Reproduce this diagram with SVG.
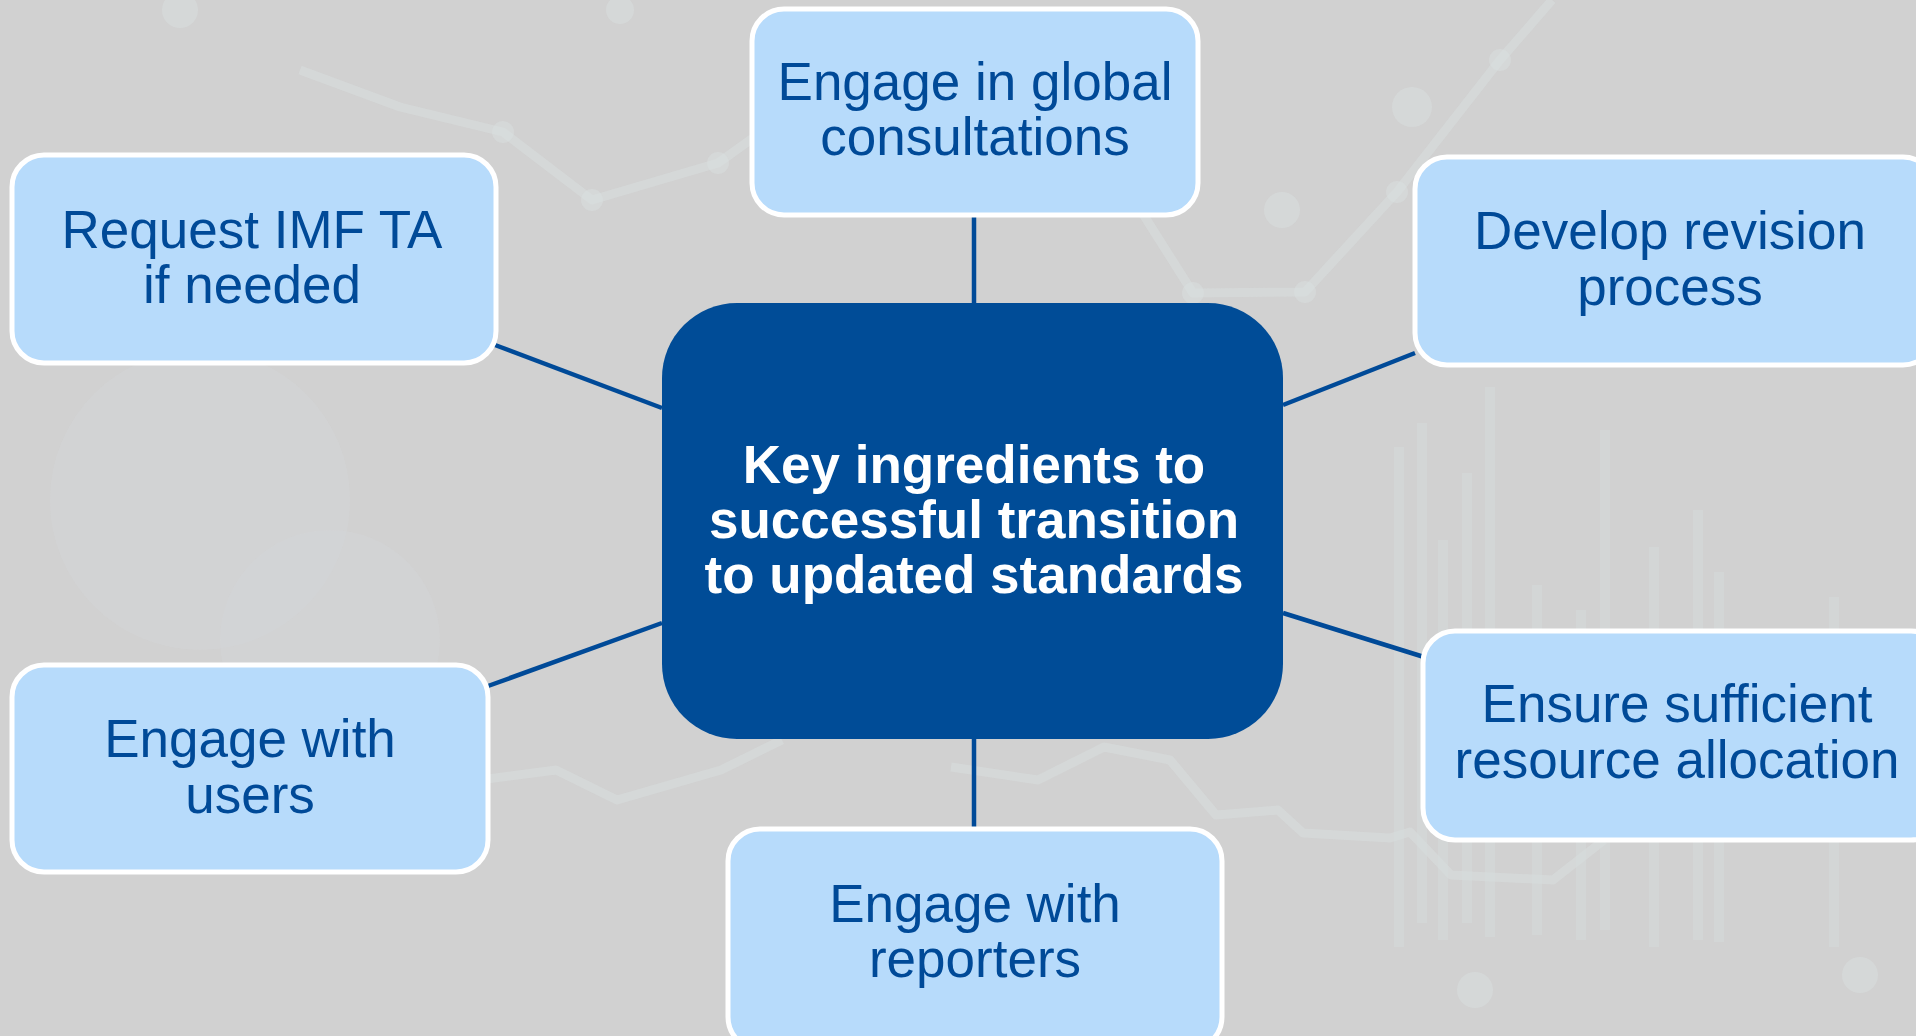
<svg xmlns="http://www.w3.org/2000/svg" width="1916" height="1036" viewBox="0 0 1916 1036">
<style>
.bg-line{fill:none;stroke:#d9dfdf;stroke-width:9;stroke-linejoin:round;opacity:0.5}
.bg-dot{fill:#d9dfdf;opacity:0.5}
.bg-bar{fill:#d6dbdb;opacity:0.5}
.node rect{fill:#b7dbfb;stroke:#ffffff;stroke-width:5}
.node text{font-family:"Liberation Sans",Arial,sans-serif;font-size:53px;fill:#004a98;text-anchor:middle}
.center rect{fill:#004c97}
.center text{font-family:"Liberation Sans",Arial,sans-serif;font-size:53px;font-weight:bold;fill:#ffffff;text-anchor:middle}
.conn line{stroke:#004a98;stroke-width:4.5}
</style>
<rect x="0" y="0" width="1916" height="1036" fill="#d1d1d1"/>
<g id="background">
  <circle cx="200" cy="500" r="150" fill="#d5d8d9" opacity="0.4"/>
  <circle cx="330" cy="640" r="110" fill="#d5d8d9" opacity="0.3"/>
  <polyline class="bg-line" points="300,70 400,107 503,132 592,200 718,163 760,133"/>
  <polyline class="bg-line" points="1143,214 1193,293 1305,292 1397,192 1500,60 1552,0"/>
  <polyline class="bg-line" points="464,782 556,770 617,800 721,770 782,740"/>
  <polyline class="bg-line" points="951,767 1038,780 1104,747 1170,760 1216,815 1278,810 1303,833 1390,838 1410,832 1451,875 1553,880 1604,840"/>
  <circle class="bg-dot" cx="503" cy="132" r="11"/>
  <circle class="bg-dot" cx="592" cy="200" r="11"/>
  <circle class="bg-dot" cx="718" cy="163" r="11"/>
  <circle class="bg-dot" cx="1193" cy="293" r="11"/>
  <circle class="bg-dot" cx="1305" cy="292" r="11"/>
  <circle class="bg-dot" cx="1397" cy="192" r="11"/>
  <circle class="bg-dot" cx="1500" cy="60" r="11"/>
  <circle class="bg-dot" cx="1412" cy="107" r="20"/>
  <circle class="bg-dot" cx="1282" cy="210" r="18"/>
  <circle class="bg-dot" cx="620" cy="10" r="14"/>
  <circle class="bg-dot" cx="180" cy="10" r="18"/>
  <circle class="bg-dot" cx="1860" cy="975" r="18"/>
  <circle class="bg-dot" cx="1475" cy="990" r="18"/>
  <rect class="bg-bar" x="1394" y="447" width="10" height="500"/>
  <rect class="bg-bar" x="1417" y="423" width="10" height="500"/>
  <rect class="bg-bar" x="1438" y="540" width="10" height="400"/>
  <rect class="bg-bar" x="1462" y="473" width="10" height="450"/>
  <rect class="bg-bar" x="1485" y="387" width="10" height="550"/>
  <rect class="bg-bar" x="1532" y="585" width="10" height="350"/>
  <rect class="bg-bar" x="1576" y="610" width="10" height="330"/>
  <rect class="bg-bar" x="1600" y="430" width="10" height="500"/>
  <rect class="bg-bar" x="1649" y="547" width="10" height="400"/>
  <rect class="bg-bar" x="1693" y="510" width="10" height="430"/>
  <rect class="bg-bar" x="1714" y="572" width="10" height="370"/>
  <rect class="bg-bar" x="1829" y="597" width="10" height="350"/>
</g>
<g id="connectors" class="conn">
  <line x1="974" y1="215" x2="974" y2="303"/>
  <line x1="495" y1="345" x2="662" y2="408"/>
  <line x1="1283" y1="405" x2="1415" y2="353"/>
  <line x1="488" y1="686" x2="662" y2="623"/>
  <line x1="1283" y1="613" x2="1424" y2="657"/>
  <line x1="974" y1="739" x2="974" y2="829"/>
</g>
<g id="center" class="center">
  <rect x="662" y="303" width="621" height="436" rx="75" ry="75"/>
  <text x="974" y="483">Key ingredients to</text>
  <text x="974" y="538">successful transition</text>
  <text x="974" y="593">to updated standards</text>
</g>
<g id="node-global" class="node">
  <rect x="752" y="9" width="446" height="206" rx="32" ry="32"/>
  <text x="975" y="100">Engage in global</text>
  <text x="975" y="155">consultations</text>
</g>
<g id="node-imf" class="node">
  <rect x="12" y="155" width="484" height="208" rx="32" ry="32"/>
  <text x="252" y="248">Request IMF TA</text>
  <text x="252" y="303">if needed</text>
</g>
<g id="node-revision" class="node">
  <rect x="1415" y="157" width="520" height="208" rx="32" ry="32"/>
  <text x="1670" y="249">Develop revision</text>
  <text x="1670" y="305">process</text>
</g>
<g id="node-users" class="node">
  <rect x="12" y="665" width="476" height="207" rx="32" ry="32"/>
  <text x="250" y="757">Engage with</text>
  <text x="250" y="813">users</text>
</g>
<g id="node-reporters" class="node">
  <rect x="728" y="829" width="494" height="220" rx="32" ry="32"/>
  <text x="975" y="922">Engage with</text>
  <text x="975" y="977">reporters</text>
</g>
<g id="node-resources" class="node">
  <rect x="1423" y="631" width="520" height="209" rx="32" ry="32"/>
  <text x="1677" y="722">Ensure sufficient</text>
  <text x="1677" y="778">resource allocation</text>
</g>
</svg>
